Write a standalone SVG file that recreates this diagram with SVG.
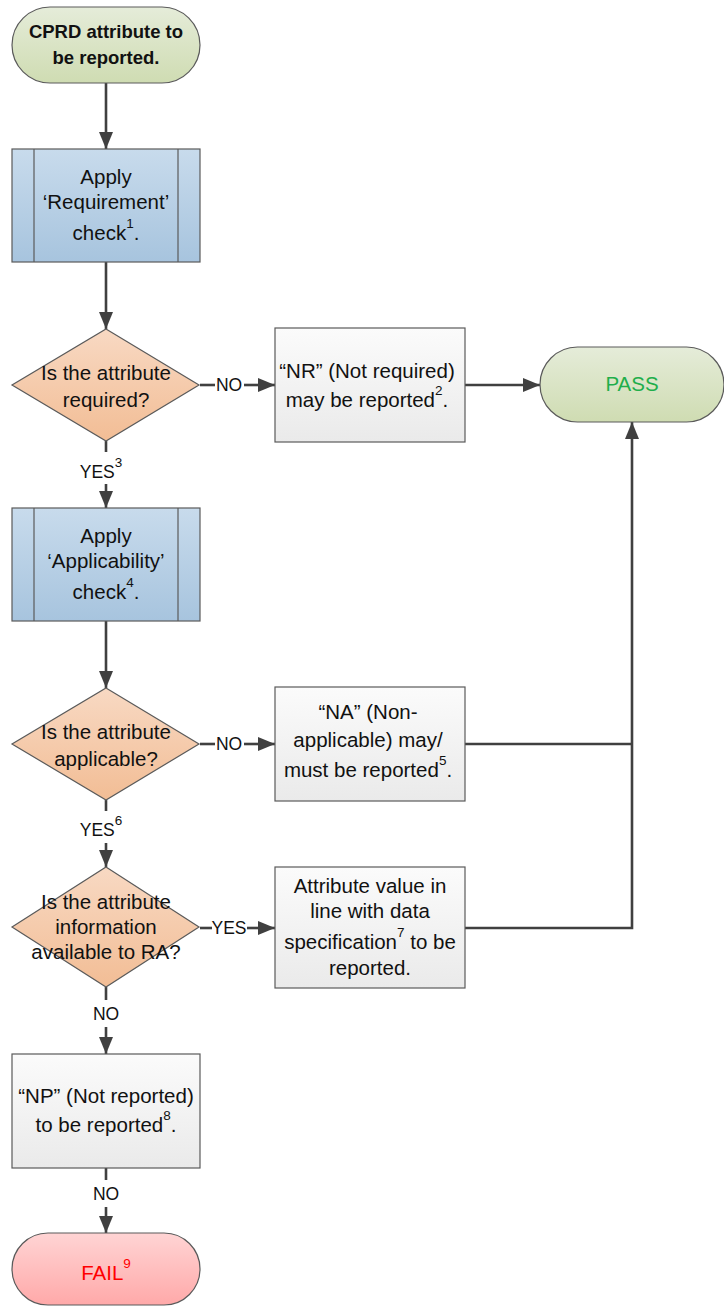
<svg xmlns="http://www.w3.org/2000/svg" width="724" height="1306" viewBox="0 0 724 1306">
  <defs>
    <linearGradient id="gGreen" x1="0" y1="0" x2="0" y2="1">
      <stop offset="0" stop-color="#e5ecd9"/>
      <stop offset="1" stop-color="#cfdcb2"/>
    </linearGradient>
    <linearGradient id="gBlue" x1="0" y1="0" x2="0" y2="1">
      <stop offset="0" stop-color="#c8dbec"/>
      <stop offset="1" stop-color="#a7c4de"/>
    </linearGradient>
    <linearGradient id="gOrange" x1="0" y1="0" x2="0" y2="1">
      <stop offset="0" stop-color="#f8d9c3"/>
      <stop offset="1" stop-color="#f2bd95"/>
    </linearGradient>
    <linearGradient id="gGray" x1="0" y1="0" x2="0" y2="1">
      <stop offset="0" stop-color="#fbfbfb"/>
      <stop offset="1" stop-color="#eaeaea"/>
    </linearGradient>
    <linearGradient id="gRed" x1="0" y1="0" x2="0" y2="1">
      <stop offset="0" stop-color="#ffd4d4"/>
      <stop offset="1" stop-color="#ffa9a9"/>
    </linearGradient>
    <marker id="arrow" markerUnits="userSpaceOnUse" markerWidth="18" markerHeight="14" refX="17" refY="7" orient="auto">
      <path d="M0,0 L17,7 L0,14 Z" fill="#404040"/>
    </marker>
  </defs>
  <style>
    .shape { stroke: #5a5a5a; stroke-width: 1.2; }
    .t { font-family: "Liberation Sans", Arial, sans-serif; font-size: 20.5px; fill: #111; text-anchor: middle; }
    .b { font-weight: bold; font-size: 18.5px; }
    .lbl { font-family: "Liberation Sans", Arial, sans-serif; font-size: 17.5px; fill: #111; text-anchor: middle; }
    .conn { fill: none; stroke: #404040; stroke-width: 2.6; }
  </style>

  <!-- connectors -->
  <g id="connectors">
    <line class="conn" x1="106" y1="83" x2="106" y2="149" marker-end="url(#arrow)"/>
    <line class="conn" x1="106" y1="262" x2="106" y2="329" marker-end="url(#arrow)"/>
    <line class="conn" x1="200" y1="385" x2="215" y2="385"/>
    <line class="conn" x1="244" y1="385" x2="275" y2="385" marker-end="url(#arrow)"/>
    <line class="conn" x1="465" y1="385" x2="540" y2="385" marker-end="url(#arrow)"/>
    <line class="conn" x1="106" y1="441" x2="106" y2="452"/>
    <line class="conn" x1="106" y1="484" x2="106" y2="508" marker-end="url(#arrow)"/>
    <line class="conn" x1="106" y1="621" x2="106" y2="688" marker-end="url(#arrow)"/>
    <line class="conn" x1="200" y1="744" x2="215" y2="744"/>
    <line class="conn" x1="244" y1="744" x2="275" y2="744" marker-end="url(#arrow)"/>
    <line class="conn" x1="465" y1="744" x2="632" y2="744"/>
    <line class="conn" x1="106" y1="800" x2="106" y2="811"/>
    <line class="conn" x1="106" y1="843" x2="106" y2="867" marker-end="url(#arrow)"/>
    <line class="conn" x1="200" y1="928" x2="212" y2="928"/>
    <line class="conn" x1="247" y1="928" x2="275" y2="928" marker-end="url(#arrow)"/>
    <polyline class="conn" points="465,928 632,928 632,422" marker-end="url(#arrow)"/>
    <line class="conn" x1="106" y1="987" x2="106" y2="1000"/>
    <line class="conn" x1="106" y1="1027" x2="106" y2="1054" marker-end="url(#arrow)"/>
    <line class="conn" x1="106" y1="1168" x2="106" y2="1180"/>
    <line class="conn" x1="106" y1="1207" x2="106" y2="1233" marker-end="url(#arrow)"/>
    <text class="lbl" x="229" y="391">NO</text>
    <text class="lbl" x="101" y="478">YES<tspan font-size="13.5" dy="-11">3</tspan></text>
    <text class="lbl" x="229" y="750">NO</text>
    <text class="lbl" x="101" y="836">YES<tspan font-size="13.5" dy="-11">6</tspan></text>
    <text class="lbl" x="229" y="934">YES</text>
    <text class="lbl" x="106" y="1020">NO</text>
    <text class="lbl" x="106" y="1200">NO</text>
  </g>

  <!-- start terminator -->
  <g id="start">
    <rect class="shape" x="12" y="7" width="188" height="76" rx="38" ry="38" fill="url(#gGreen)"/>
    <text class="t b" x="106" y="38">CPRD attribute to</text>
    <text class="t b" x="106" y="64">be reported.</text>
  </g>

  <!-- requirement check -->
  <g id="requirement-check">
    <rect class="shape" x="12" y="149" width="188" height="113" fill="url(#gBlue)"/>
    <line class="shape" x1="34" y1="149" x2="34" y2="262"/>
    <line class="shape" x1="178" y1="149" x2="178" y2="262"/>
    <text class="t" x="106" y="184">Apply</text>
    <text class="t" x="106" y="209">‘Requirement’</text>
    <text class="t" x="106" y="240">check<tspan font-size="13.5" dy="-12">1</tspan><tspan dy="12">.</tspan></text>
  </g>

  <!-- required decision -->
  <g id="is-required">
    <polygon class="shape" points="106,329 199,385 106,441 12,385" fill="url(#gOrange)"/>
    <text class="t" x="106" y="380">Is the attribute</text>
    <text class="t" x="106" y="407">required?</text>
  </g>

  <!-- not required -->
  <g id="not-required">
    <rect class="shape" x="275" y="328" width="190" height="114" fill="url(#gGray)"/>
    <text class="t" x="367" y="378">“NR” (Not required)</text>
    <text class="t" x="367" y="407">may be reported<tspan font-size="13.5" dy="-12">2</tspan><tspan dy="12">.</tspan></text>
  </g>

  <!-- pass terminator -->
  <g id="pass">
    <rect class="shape" x="540" y="347" width="184" height="75" rx="37.5" ry="37.5" fill="url(#gGreen)"/>
    <text class="t" x="632" y="391" style="fill:#1fae4b">PASS</text>
  </g>

  <!-- applicability check -->
  <g id="applicability-check">
    <rect class="shape" x="12" y="508" width="188" height="113" fill="url(#gBlue)"/>
    <line class="shape" x1="34" y1="508" x2="34" y2="621"/>
    <line class="shape" x1="178" y1="508" x2="178" y2="621"/>
    <text class="t" x="106" y="543">Apply</text>
    <text class="t" x="106" y="568">‘Applicability’</text>
    <text class="t" x="106" y="599">check<tspan font-size="13.5" dy="-12">4</tspan><tspan dy="12">.</tspan></text>
  </g>

  <!-- applicable decision -->
  <g id="is-applicable">
    <polygon class="shape" points="106,688 199,744 106,800 12,744" fill="url(#gOrange)"/>
    <text class="t" x="106" y="739">Is the attribute</text>
    <text class="t" x="106" y="766">applicable?</text>
  </g>

  <!-- non-applicable -->
  <g id="non-applicable">
    <rect class="shape" x="275" y="687" width="190" height="114" fill="url(#gGray)"/>
    <text class="t" x="368" y="719">“NA” (Non-</text>
    <text class="t" x="368" y="747">applicable) may/</text>
    <text class="t" x="368" y="777">must be reported<tspan font-size="13.5" dy="-12">5</tspan><tspan dy="12">.</tspan></text>
  </g>

  <!-- information available decision -->
  <g id="is-available">
    <polygon class="shape" points="106,867 199,927 106,987 12,927" fill="url(#gOrange)"/>
    <text class="t" x="106" y="909">Is the attribute</text>
    <text class="t" x="106" y="934">information</text>
    <text class="t" x="106" y="959">available to RA?</text>
  </g>

  <!-- value reported -->
  <g id="value-reported">
    <rect class="shape" x="275" y="867" width="190" height="121" fill="url(#gGray)"/>
    <text class="t" x="370" y="893">Attribute value in</text>
    <text class="t" x="370" y="918">line with data</text>
    <text class="t" x="370" y="949">specification<tspan font-size="13.5" dy="-12">7</tspan><tspan dy="12"> to be</tspan></text>
    <text class="t" x="370" y="975">reported.</text>
  </g>

  <!-- not reported -->
  <g id="not-reported">
    <rect class="shape" x="12" y="1054" width="188" height="114" fill="url(#gGray)"/>
    <text class="t" x="106" y="1103">“NP” (Not reported)</text>
    <text class="t" x="106" y="1132">to be reported<tspan font-size="13.5" dy="-12">8</tspan><tspan dy="12">.</tspan></text>
  </g>

  <!-- fail terminator -->
  <g id="fail">
    <rect class="shape" x="12" y="1233" width="188" height="72" rx="36" ry="36" fill="url(#gRed)"/>
    <text class="t" x="106" y="1280" style="fill:#ff0000">FAIL<tspan font-size="13.5" dy="-12">9</tspan></text>
  </g>
</svg>
